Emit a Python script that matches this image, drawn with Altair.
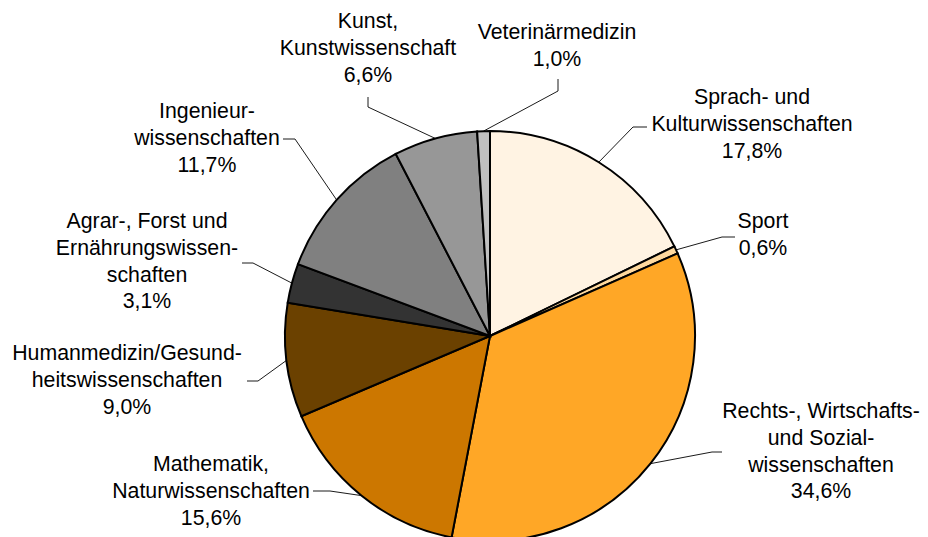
import altair as alt
import pandas as pd
import numpy as np

# ---------------- data ----------------
labels = [
    "Sprach- und\nKulturwissenschaften",
    "Sport",
    "Rechts-, Wirtschafts-\nund Sozial-\nwissenschaften",
    "Mathematik,\nNaturwissenschaften",
    "Humanmedizin/Gesund-\nheitswissenschaften",
    "Agrar-, Forst und\nErnährungswissen-\nschaften",
    "Ingenieur-\nwissenschaften",
    "Kunst,\nKunstwissenschaft",
    "Veterinärmedizin",
]
values = [17.8, 0.6, 34.6, 15.6, 9.0, 3.1, 11.7, 6.6, 1.0]
colors = ["#FFF3E3", "#FFD99E", "#FFA726", "#CC7700", "#6B4100",
          "#333333", "#808080", "#979797", "#C0C0C0"]

# ---------------- layout (pixels, page coordinates) ----------------
CX, CY = 490, 336          # pie centre
R = 205                    # pie radius
FS = 21.3                  # font size
LH = 26.8                  # line height
# label first-line centre, leader elbow, leader end
label_pos = [(752, 98), (763, 222), (821, 412), (211, 465), (127, 354),
             (147, 222), (207, 112), (368, 22), (557, 33)]
elbow_pos = [(633, 127), (722, 237), (712, 452), (330, 491), (258, 381),
             (253, 263), (295, 139), (368, 107), (558, 91)]
end_pos = [(647, 127), (735, 237), (722, 452), (313, 491), (247, 381),
           (242, 263), (283, 139), (368, 97), (558, 79)]

# ---------------- tables ----------------
vals = np.array(values)
ends = np.cumsum(vals)
starts = ends - vals
pct = [f"{v:.1f}".replace(".", ",") + "%" for v in values]

pie_df = pd.DataFrame({
    "label": labels, "value": values, "start": starts, "end": ends,
    "color": colors, "order": range(len(values)),
    "cx": [0] * len(values), "cy": [0] * len(values),
})

text_rows = []
line_rows = []
for i, lab in enumerate(labels):
    full = lab + "\n" + pct[i]
    lx, ly = label_pos[i]
    text_rows.append({"text": full, "x": lx - CX, "y": ly - CY, "order": i})
    mid = (starts[i] + ends[i]) / 2 / 100 * 2 * np.pi
    ex, ey = R * np.sin(mid), -R * np.cos(mid)
    pts = [(ex, ey), (elbow_pos[i][0] - CX, elbow_pos[i][1] - CY),
           (end_pos[i][0] - CX, end_pos[i][1] - CY)]
    for k, (px, py) in enumerate(pts):
        line_rows.append({"id": i, "seq": k, "x": px, "y": py})

text_df = pd.DataFrame(text_rows)
line_df = pd.DataFrame(line_rows)

W, H = 912, 529
xs = alt.Scale(domain=[8 - CX, 8 + W - CX], nice=False, zero=False)
ys = alt.Scale(domain=[8 - CY, 8 + H - CY], nice=False, zero=False, reverse=True)

pie = alt.Chart(pie_df).mark_arc(radius=R, stroke="black", strokeWidth=2).encode(
    x=alt.X("cx:Q", scale=xs, axis=None),
    y=alt.Y("cy:Q", scale=ys, axis=None),
    theta=alt.Theta("start:Q", scale=alt.Scale(domain=[0, 100], range=[0, 2 * np.pi])),
    theta2="end:Q",
    color=alt.Color("color:N", scale=None),
    order=alt.Order("order:Q"),
)

leaders = alt.Chart(line_df).mark_line(color="black", strokeWidth=0.9).encode(
    x=alt.X("x:Q", scale=xs, axis=None),
    y=alt.Y("y:Q", scale=ys, axis=None),
    detail="id:N",
    order="seq:Q",
)

texts = alt.Chart(text_df).mark_text(
    font="Liberation Sans", fontSize=FS, lineHeight=LH, lineBreak="\n",
    align="center", baseline="middle", color="black",
).encode(
    x=alt.X("x:Q", scale=xs, axis=None),
    y=alt.Y("y:Q", scale=ys, axis=None),
    text="text:N",
)

chart = alt.layer(pie, leaders, texts).properties(
    width=W, height=H, padding=0, autosize="none"
).configure_view(stroke=None)

chart.save("out.html", embed_options={"renderer": "svg", "actions": False})
